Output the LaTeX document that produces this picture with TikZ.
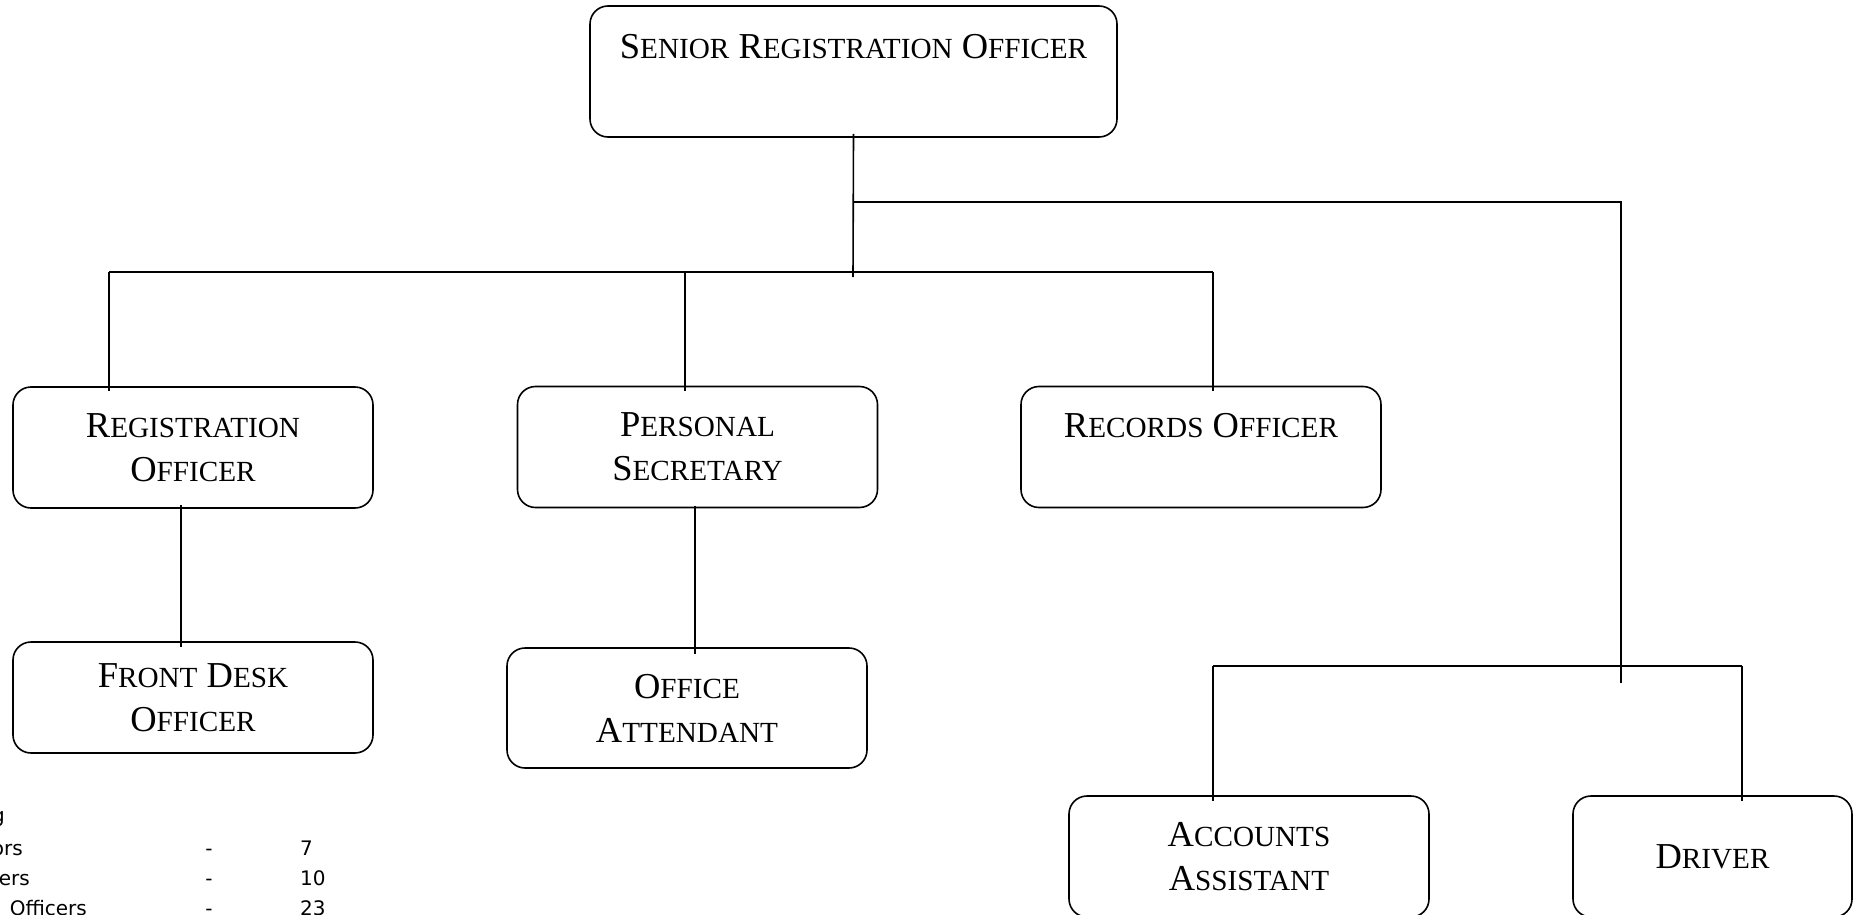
\documentclass[tikz,border=0pt]{standalone}
\usepackage{fontspec}
\setmainfont{Liberation Serif}
\newfontfamily\legendfont{DejaVu Sans}
\usetikzlibrary{positioning}

% word-style small caps: first letter full size, rest smaller
\newcommand{\smc}[2]{#1{\smcfont #2}}
\newcommand{\smcfont}{}

\begin{document}
\begin{tikzpicture}[x=1pt, y=-1pt]
    % Define styles
    \tikzstyle{post}=[rectangle, draw=black, line width=1.6pt, rounded corners=18pt, align=center, minimum width=360pt, minimum height=121pt, inner sep=0pt, font={\fontsize{36.5}{44}\selectfont\renewcommand{\smcfont}{\fontsize{29.2}{29.2}\selectfont}}]
    \tikzstyle{link}=[line width=1.6pt]
    \tikzstyle{legend}=[inner sep=0pt, font={\legendfont\fontsize{20}{25}\selectfont}]

    \useasboundingbox (0,0) rectangle (1853,915);

    % Posts
    \node[post, minimum width=527pt, minimum height=131pt, text height=25pt, text depth=50pt] (senior) at (853.5,71.5) {\smc{S}{ENIOR} \smc{R}{EGISTRATION} \smc{O}{FFICER}};
    \node[post] (regoff) at (193,447.5) {\smc{R}{EGISTRATION}\\ \smc{O}{FFICER}};
    \node[post] (persec) at (697.5,447) {\smc{P}{ERSONAL}\\ \smc{S}{ECRETARY}};
    \node[post, text height=24pt, text depth=44pt] (records) at (1201,447) {\smc{R}{ECORDS} \smc{O}{FFICER}};
    \node[post, minimum height=111pt] (frontdesk) at (193,697.5) {\smc{F}{RONT} \smc{D}{ESK}\\ \smc{O}{FFICER}};
    \node[post, minimum height=120pt] (attendant) at (687,708) {\smc{O}{FFICE}\\ \smc{A}{TTENDANT}};
    \node[post] (accounts) at (1249,856.5) {\smc{A}{CCOUNTS}\\ \smc{A}{SSISTANT}};
    \node[post, minimum width=279pt] (driver) at (1712.5,856.5) {\smc{D}{RIVER}};

    % Junctions
    \coordinate (stemend) at (853,277);
    \coordinate (busL) at (109,272);
    \coordinate (busR) at (1213,272);
    \coordinate (busM) at (685,272);
    \coordinate (rtop) at (1621,202);
    \coordinate (rend) at (1621,683);
    \coordinate (lowL) at (1213,666);
    \coordinate (lowR) at (1742,666);
    \coordinate (fdx) at (181,0);
    \coordinate (oax) at (695,0);

    % Connections
    \draw[link] ([yshift=4pt]senior.south) -- (stemend);
    \draw[link] (senior.south |- rtop) -- (rtop) -- (rend);
    \draw[link] (busL) -- (busR);
    \draw[link, shorten >=-5pt] (busL) -- (busL |- regoff.north);
    \draw[link, shorten >=-5pt] (busR) -- (busR |- records.north);
    \draw[link, shorten >=-5pt] (busM) -- (busM |- persec.north);
    \draw[link, shorten <=-4pt, shorten >=-6pt] (fdx |- regoff.south) -- (fdx |- frontdesk.north);
    \draw[link, shorten <=-2pt, shorten >=-7pt] (oax |- persec.south) -- (oax |- attendant.north);
    \draw[link] (lowL) -- (lowR);
    \draw[link, shorten >=-6pt] (lowL) -- (lowL |- accounts.north);
    \draw[link, shorten >=-6pt] (lowR) -- (lowR |- driver.north);

    % Legend (cut at the left edge)
    \node[legend, anchor=base east] (lgtitle) at (5,822) {g};
    \node[legend, anchor=base east] (lgrowa) at (23,855) {ors};
    \node[legend, anchor=base east] (lgrowb) at (30,885) {ers};
    \node[legend, anchor=base east] (lgrowc) at (87,915) {Officers};
    \node[legend, anchor=base] (lgdasha) at (209,855) {-};
    \node[legend, anchor=base] (lgdashb) at (209,885) {-};
    \node[legend, anchor=base] (lgdashc) at (209,915) {-};
    \node[legend, anchor=base west] (lgnuma) at (300,855) {7};
    \node[legend, anchor=base west] (lgnumb) at (300,885) {10};
    \node[legend, anchor=base west] (lgnumc) at (300,915) {23};
\end{tikzpicture}
\end{document}
